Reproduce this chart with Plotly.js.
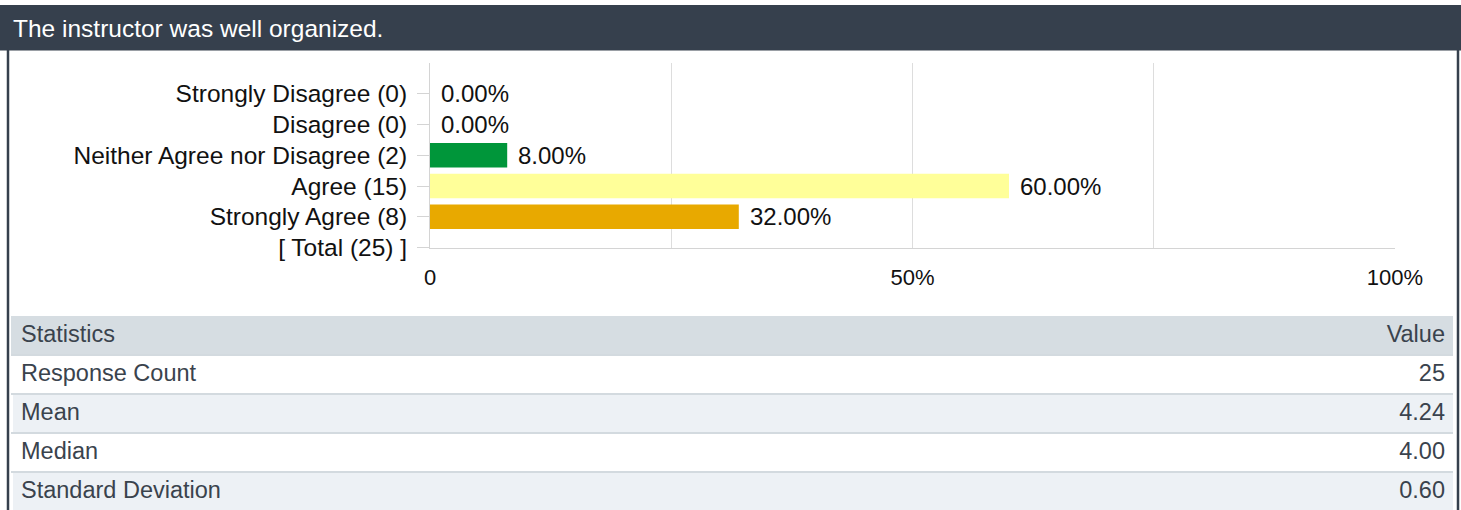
<!DOCTYPE html>
<html>
<head>
<meta charset="utf-8">
<script src="https://cdn.plot.ly/plotly-3.0.1.min.js"></script>
<style>
  html, body { margin: 0; padding: 0; background: #ffffff; }
  #chart { width: 1461px; height: 510px; }
</style>
</head>
<body>
<div id="chart"></div>
<script>
// ---- data ----
const questionTitle = "The instructor was well organized.";
const responseLabels = ["Strongly Disagree", "Disagree", "Neither Agree nor Disagree", "Agree", "Strongly Agree"];
const responseCounts = [0, 0, 2, 15, 8];
const responsePercents = [0.00, 0.00, 8.00, 60.00, 32.00];
const totalCount = 25;
const barColors = ["#c0392b", "#e67e22", "#00963a", "#ffff99", "#e8a900"];
const xTickValues = [0, 25, 50, 75, 100];
const xTickText = ["0", "", "50%", "", "100%"];
const statNames = ["Response Count", "Mean", "Median", "Standard Deviation"];
const statValues = ["25", "4.24", "4.00", "0.60"];
const statHeader = ["Statistics", "Value"];

// ---- geometry helpers (pixel -> paper) ----
const W = 1461, H = 510;
const px = v => v / W;
const py = v => 1 - v / H;

const FONT = "'Liberation Sans', Arial, Helvetica, sans-serif";
const DARK = "#36404d";
const TXT = "#3a434d";

const categories = responseLabels.map((l, i) => l + " (" + responseCounts[i] + ")");
categories.push("[ Total (" + totalCount + ") ]");
const barValues = responsePercents.slice();

const barTrace = {
  type: "bar",
  orientation: "h",
  x: barValues,
  y: categories.slice(0, responseLabels.length),
  marker: { color: barColors, line: { width: 0 } },
  width: 0.8,
  hoverinfo: "skip",
  showlegend: false,
  xaxis: "x", yaxis: "y"
};

const rowFills = statNames.map((_, i) => (i % 2 === 0 ? "#ffffff" : "#edf1f5"));
const tableTrace = {
  type: "table",
  domain: { x: [px(13), px(1453)], y: [0, py(316)] },
  columnwidth: [1, 1],
  header: {
    values: statHeader,
    align: ["left", "right"],
    height: 39,
    fill: { color: "#d6dde2" },
    line: { width: 0, color: "#d6dde2" },
    font: { family: FONT, size: 23.5, color: TXT }
  },
  cells: {
    values: [statNames, statValues],
    align: ["left", "right"],
    height: 39,
    fill: { color: [rowFills, rowFills] },
    line: { width: 0, color: "#ffffff" },
    font: { family: FONT, size: 23.5, color: TXT }
  }
};

const annotations = [];
annotations.push({
  xref: "paper", yref: "paper",
  x: px(11), y: py(28), xanchor: "left", yanchor: "middle",
  text: questionTitle, showarrow: false,
  font: { family: FONT, size: 24.5, color: "#ffffff" }
});
barValues.forEach((v, i) => {
  annotations.push({
    xref: "x", yref: "y",
    x: v, y: categories[i],
    xanchor: "left", yanchor: "middle", xshift: 9,
    text: v.toFixed(2) + "%", showarrow: false,
    font: { family: FONT, size: 24, color: "#111111" }
  });
});

const shapes = [
  { type: "rect", xref: "paper", yref: "paper", x0: 0, x1: 1, y0: py(50.5), y1: py(5),
    fillcolor: DARK, line: { width: 0 }, layer: "below" },
  { type: "line", xref: "paper", yref: "paper", x0: px(8), x1: px(8), y0: 0, y1: py(50),
    line: { color: DARK, width: 2.5 } },
  { type: "line", xref: "paper", yref: "paper", x0: px(1458), x1: px(1458), y0: 0, y1: py(50),
    line: { color: DARK, width: 2.5 } },
  // header strip of the table extends a bit to the left of the text column
  { type: "rect", xref: "paper", yref: "paper", x0: px(11), x1: px(13.5), y0: py(355), y1: py(316),
    fillcolor: "#d6dde2", line: { width: 0 } }
];
// row separators for the statistics table
for (let i = 0; i < statNames.length; i++) {
  const yPix = 316 + 39 * (i + 1);
  shapes.push({ type: "line", xref: "paper", yref: "paper", x0: px(11), x1: px(1453),
    y0: py(yPix), y1: py(yPix), line: { color: "#d3dadf", width: 2 }, layer: "above" });
}

const layout = {
  width: W, height: H,
  margin: { l: 0, r: 0, t: 0, b: 0 },
  paper_bgcolor: "#ffffff",
  plot_bgcolor: "#ffffff",
  showlegend: false,
  font: { family: FONT, size: 22, color: "#111111" },
  xaxis: {
    domain: [px(430), px(1395)],
    range: [0, 100],
    tickvals: xTickValues, ticktext: xTickText,
    showgrid: true, gridcolor: "#dddddd", gridwidth: 1,
    showline: true, linecolor: "#d4d4d4", linewidth: 1,
    zeroline: false, ticks: "",
    ticklabelstandoff: 10,
    tickfont: { family: FONT, size: 22, color: "#111111" },
    fixedrange: true
  },
  yaxis: {
    domain: [py(247.5), py(63)],
    type: "category",
    categoryorder: "array", categoryarray: categories,
    tickvals: categories,
    range: [5, -1],
    showgrid: false,
    showline: true, linecolor: "#d4d4d4", linewidth: 1,
    zeroline: false,
    ticks: "outside", ticklen: 12, tickcolor: "#d4d4d4", tickwidth: 1,
    ticklabelstandoff: 5,
    tickfont: { family: FONT, size: 24.5, color: "#111111" },
    fixedrange: true
  },
  bargap: 0.2,
  annotations: annotations,
  shapes: shapes
};

Plotly.newPlot("chart", [barTrace, tableTrace], layout, { displayModeBar: false, staticPlot: true });
</script>
</body>
</html>
